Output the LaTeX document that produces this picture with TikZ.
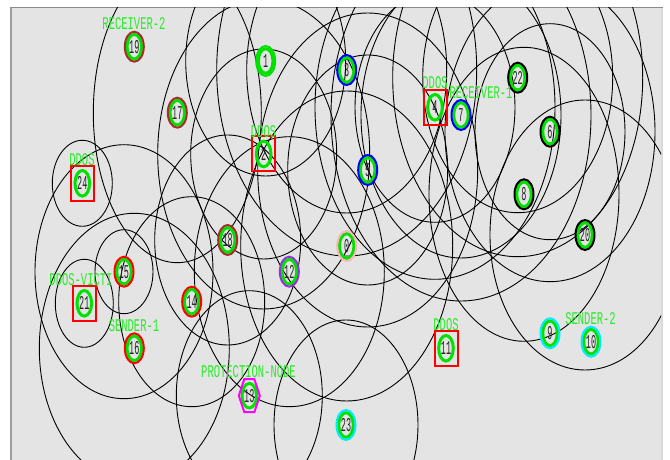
\documentclass[tikz,border=0pt]{standalone}
\usepackage{fontspec}
\usepackage{graphicx}
\usetikzlibrary{backgrounds,shapes.geometric}
\newfontfamily\nsmono{Liberation Mono}
\definecolor{bggray}{RGB}{228,228,228}
\definecolor{nsgreen}{RGB}{0,225,0}
\definecolor{lblgreen}{RGB}{40,235,40}
\definecolor{brownring}{RGB}{165,45,45}
\definecolor{bluering}{RGB}{0,0,255}
\definecolor{cyanring}{RGB}{0,235,255}
\definecolor{purplering}{RGB}{150,50,220}
\definecolor{pinkring}{RGB}{255,180,190}
\definecolor{magentaring}{RGB}{255,0,255}
\definecolor{redring}{RGB}{255,0,0}
\newcommand\tallnum[1]{\scalebox{1}[2.3]{#1}}
\newcommand\talllbl[1]{\scalebox{1}[1.7]{#1}}
\begin{document}
\begin{tikzpicture}[x=1pt,y=1pt,
  numfont/.style={font=\nsmono\fontsize{8.5}{8.5}\selectfont, text=black!85},
  netnode/.style={numfont, shape=ellipse, inner sep=0pt, minimum width=19pt, minimum height=30pt,
     line width=2pt,
     path picture={\draw[nsgreen,line width=3pt] (path picture bounding box.center) ellipse [x radius=7.3pt, y radius=12.3pt];}},
  sqnode/.style={numfont, shape=rectangle, inner sep=0pt, minimum width=23pt, minimum height=35pt,
     line width=2pt, draw=redring,
     path picture={\draw[nsgreen,line width=3pt] (path picture bounding box.center) ellipse [x radius=7.3pt, y radius=12.8pt];}},
  lbl/.style={font=\nsmono\fontsize{10.5}{10.5}\selectfont, text=lblgreen, inner sep=0pt},
  rangeline/.style={draw=black, line width=0.9pt},
  hexline/.style={draw=magentaring, line width=2pt, line join=miter}
]
\useasboundingbox (0,0) rectangle (670,460);
% nodes
\node[netnode, draw=brownring] (n19) at (134.3,413.3) {\tallnum{19}};
\node[netnode, draw=nsgreen] (n1) at (265.7,399) {\tallnum{1}};
\node[netnode, draw=brownring] (n17) at (177.3,347.3) {\tallnum{17}};
\node[sqnode] (n2) at (263.7,306) {\tallnum{2}};
\node[sqnode] (n24) at (82.3,276.7) {\tallnum{24}};
\node[netnode, draw=bluering] (n3) at (346.7,390) {\tallnum{3}};
\node[sqnode] (n4) at (435,352.7) {\tallnum{4}};
\node[netnode, draw=bluering] (n7) at (461,345) {\tallnum{7}};
\node[netnode, draw=black] (n22) at (517.7,382.3) {\tallnum{22}};
\node[netnode, draw=black] (n6) at (550,328.3) {\tallnum{6}};
\node[netnode, draw=bluering] (n5) at (367.7,290) {\tallnum{5}};
\node[netnode, draw=black] (n8) at (524,265.7) {\tallnum{8}};
\node[netnode, draw=black] (n20) at (585,225) {\tallnum{20}};
\node[netnode, draw=brownring] (n18) at (227.7,220) {\tallnum{18}};
\node[netnode, draw=pinkring] (n0) at (346.7,214) {\tallnum{0}};
\node[netnode, draw=purplering] (n12) at (289.3,188.3) {\tallnum{12}};
\node[netnode, draw=redring] (n15) at (124,188.3) {\tallnum{15}};
\node[sqnode] (n21) at (84.3,156.7) {\tallnum{21}};
\node[netnode, draw=redring] (n14) at (191.7,158.3) {\tallnum{14}};
\node[netnode, draw=redring] (n16) at (134.3,111.7) {\tallnum{16}};
\node[netnode, draw=none] (n13) at (249.3,64.3) {\tallnum{13}};
\node[sqnode] (n11) at (446,111.7) {\tallnum{11}};
\node[netnode, draw=cyanring] (n9) at (550,126.7) {\tallnum{9}};
\node[netnode, draw=cyanring] (n10) at (591,118.3) {\tallnum{10}};
\node[netnode, draw=cyanring] (n23) at (346,35) {\tallnum{23}};
% hexagon of the protection node
\draw[hexline] ([shift={(-10.5,0)}]n13.center) -- ([shift={(-5,16.5)}]n13.center) -- ([shift={(5,16.5)}]n13.center)
  -- ([shift={(10.5,0)}]n13.center) -- ([shift={(5,-16.5)}]n13.center) -- ([shift={(-5,-16.5)}]n13.center) -- cycle;
% labels
\node[lbl] (l19) at (134,436) {\talllbl{RECEIVER-2}};
\node[lbl] (l2) at (263.5,328.5) {\talllbl{DDOS}};
\node[lbl] (l24) at (82,300) {\talllbl{DDOS}};
\node[lbl] (l4) at (435,377) {\talllbl{DDOS}};
\node[lbl] (l7) at (481,367) {\talllbl{RECEIVER-1}};
\node[lbl] (l21) at (81,180) {\talllbl{DDOS-VICTI}};
\node[lbl] (l16) at (134,134) {\talllbl{SENDER-1}};
\node[lbl] (l13) at (248.5,88.5) {\talllbl{PROTECTION-NODE}};
\node[lbl] (l11) at (446,135) {\talllbl{DDOS}};
\node[lbl] (l10) at (590.5,141.5) {\talllbl{SENDER-2}};
% background and ranges
\begin{scope}[on background layer]
  \fill[bggray] (10,0) rectangle (663,453);
  \fill[black!14] (661,0) rectangle (663,453);
  \draw[black!38, line width=1.5pt] (10.75,0) -- (10.75,453);
  \draw[black!45, line width=1pt] (10,452.5) -- (663,452.5);
  \begin{scope}
    \clip (11.5,0) rectangle (661,452);
    \foreach \n/\a/\b in {n24/30/43, n21/29/44, n15/29/42, n20/95/135, n23/72/105, n13/73/105,
       n2/73/105, n2/106/155, n18/73/105, n17/84/150, n16/95/135, n15/89/127, n14/73/105, n12/95/135, n0/106/155,
       n5/110/157, n3/100/143, n4/120/172, n7/100/143, n22/95/135, n6/105/150, n8/95/147,
       n1/80/115, n3/130/186, n4/80/115, n7/130/186, n5/80/115, n22/125/179, n6/75/108}
      \draw[rangeline] (\n.center) ellipse [x radius=\a pt, y radius=\b pt];
  \end{scope}
\end{scope}
\end{tikzpicture}
\end{document}
